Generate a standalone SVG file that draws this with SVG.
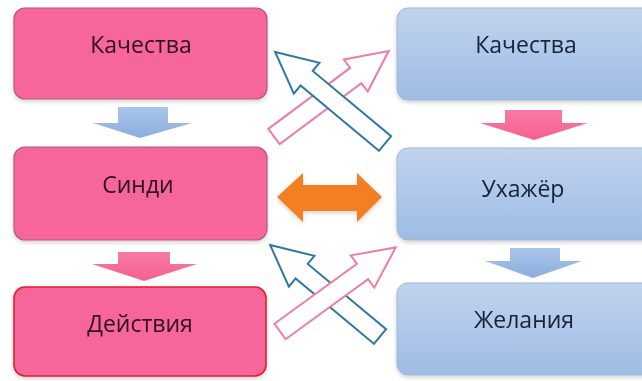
<svg xmlns="http://www.w3.org/2000/svg" width="642" height="381" viewBox="0 0 642 381">
  <defs>
    <linearGradient id="blueBox" x1="0" y1="0" x2="0" y2="1">
      <stop offset="0" stop-color="#C0D3EE"/>
      <stop offset="1" stop-color="#9FBCE4"/>
    </linearGradient>
    <linearGradient id="blueArrow" x1="0" y1="0" x2="0" y2="1">
      <stop offset="0" stop-color="#A9C5EC"/>
      <stop offset="1" stop-color="#8CAEDD"/>
    </linearGradient>
    <linearGradient id="pinkArrow" x1="0" y1="0" x2="0" y2="1">
      <stop offset="0" stop-color="#F77AA3"/>
      <stop offset="1" stop-color="#F4628F"/>
    </linearGradient>
    <filter id="shadow" x="-10%" y="-10%" width="120%" height="130%">
      <feDropShadow dx="0" dy="2" stdDeviation="2" flood-color="#000" flood-opacity="0.18"/>
    </filter>
    <path id="cross" d="M0,-9.5 L102,-9.5 L102,-20 L143,0 L102,20 L102,9.5 L0,9.5 Z"/>
  </defs>
  <style>
    .pinkBox { fill: #F7669A; stroke: #B45A7A; stroke-width: 1.2; }
    .redBox { fill: #F7669A; stroke: #E41E2C; stroke-width: 1.6; }
    .blueBox { fill: url(#blueBox); stroke: #9DB6D8; stroke-width: 1; }
    .lbl { font-family: "Open Sans", "Liberation Sans", sans-serif; font-size: 23px; text-anchor: middle; }
    .lblL { fill: #2E0F26; }
    .lblR { fill: #18233A; }
    .xBlue { fill: #FFFFFF; stroke: #2F78A8; stroke-width: 2; stroke-linejoin: miter; }
    .xPink { fill: #FFFFFF; stroke: #EC7FA0; stroke-width: 2; stroke-linejoin: miter; }
  </style>
  <rect width="642" height="381" fill="#FFFFFF"/>

  <g id="left-qualities" filter="url(#shadow)">
    <rect class="pinkBox" x="14" y="8" width="253" height="91" rx="11"/>
    <text class="lbl lblL" x="141" y="53">Качества</text>
  </g>
  <g id="cindy" filter="url(#shadow)">
    <rect class="pinkBox" x="14" y="147" width="253" height="93" rx="11"/>
    <text class="lbl lblL" x="138" y="193">Синди</text>
  </g>
  <g id="actions" filter="url(#shadow)">
    <rect class="redBox" x="14" y="287" width="252" height="89" rx="11"/>
    <text class="lbl lblL" x="140" y="332">Действия</text>
  </g>
  <g id="right-qualities" filter="url(#shadow)">
    <rect class="blueBox" x="397" y="8" width="260" height="92" rx="11"/>
    <text class="lbl lblR" x="526" y="53">Качества</text>
  </g>
  <g id="suitor" filter="url(#shadow)">
    <rect class="blueBox" x="397" y="148" width="260" height="92" rx="11"/>
    <text class="lbl lblR" x="523" y="197">Ухажёр</text>
  </g>
  <g id="desires" filter="url(#shadow)">
    <rect class="blueBox" x="397" y="283" width="260" height="92" rx="11"/>
    <text class="lbl lblR" x="524" y="328">Желания</text>
  </g>

  <g id="connectors">
    <path fill="url(#blueArrow)" d="M118,107 L168,107 L168,123 L192,123 L140,138 L93,123 L118,123 Z"/>
    <path fill="url(#pinkArrow)" d="M118,252 L170,252 L170,264 L197,264 L144,281 L92,264 L118,264 Z"/>
    <path fill="url(#pinkArrow)" d="M505,110 L562,110 L562,123 L588,123 L534,140 L480,123 L505,123 Z"/>
    <path fill="url(#blueArrow)" d="M510,248 L560,248 L560,261 L582,261 L533,278 L485,261 L510,261 Z"/>

    <path fill="#F47F20" filter="url(#shadow)" d="M277,197 L303,173 L303,185 L357,185 L357,173 L382,197 L357,222 L357,211 L303,211 L303,222 Z"/>

    <use href="#cross" class="xPink" transform="translate(274,136.5) rotate(-36.7)"/>
    <use href="#cross" class="xBlue" transform="translate(385,143.5) rotate(219.8)"/>

    <use href="#cross" class="xBlue" transform="translate(380,336.5) rotate(219.8)"/>
    <use href="#cross" class="xPink" transform="translate(280,331.5) rotate(-36)"/>
  </g>
</svg>
